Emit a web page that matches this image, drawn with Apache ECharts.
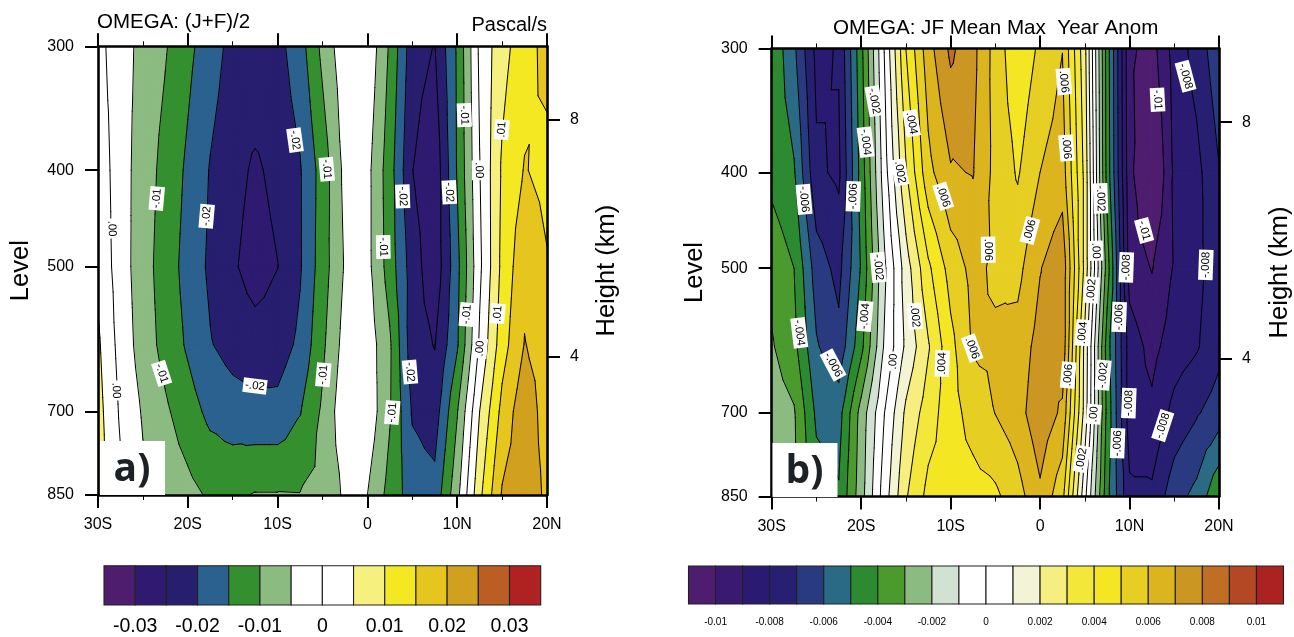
<!DOCTYPE html>
<html><head><meta charset="utf-8">
<style>html,body{margin:0;padding:0;background:#fff}#c{width:1294px;height:637px}</style>
<script src="https://cdn.jsdelivr.net/npm/echarts@6/dist/echarts.min.js"></script>
</head><body><div id="c"></div>
<script>
// ---- coordinates ----
const lons=[-30,-27.5,-25,-22.5,-20,-17.5,-15,-12.5,-10,-7.5,-5,-2.5,0,2.5,5,7.5,10,12.5,15,17.5,20];
const levels=[300,400,500,600,700,850];
const levelTicks=[300,400,500,700,850];
const heightTicks=[8,4];
const heightTickLevels=[356,617];
// ---- panel a values, one array per level ----
const a300=[.0015,-.0028,-.0065,-.0096,-.0137,-.0178,-.0215,-.0212,-.0216,-.0171,-.0087,-.0015,-.001,-.0107,-.0229,-.0252,-.0143,.001,.0083,.0128,.0167];
const a400=[.0031,-.0027,-.0075,-.0116,-.0159,-.0203,-.0232,-.0258,-.0236,-.0204,-.0128,-.0036,-.0035,-.0128,-.0249,-.0285,-.0146,-.0002,.0107,.0153,.0135];
const a500=[.0038,-.0025,-.0079,-.0124,-.0168,-.0209,-.0243,-.0272,-.0251,-.0205,-.0124,-.0045,-.0035,-.0123,-.0225,-.0285,-.0165,-.001,.0113,.0188,.0154];
const a600=[.0058,-.0018,-.0073,-.0117,-.0157,-.0197,-.0218,-.0229,-.0225,-.0189,-.011,-.003,-.002,-.0093,-.0228,-.0252,-.0156,.0007,.0129,.0202,.0178];
const a700=[.0068,-.0007,-.0055,-.0092,-.0128,-.0163,-.0178,-.0185,-.0185,-.0153,-.0092,-.0014,-.0015,-.0095,-.0205,-.0225,-.0103,.005,.0165,.0235,.0174];
const a850=[.0072,.001,-.004,-.0065,-.0085,-.0107,-.0108,-.0097,-.0097,-.0098,-.0085,-.0042,-.005,-.0118,-.0175,-.0183,-.0065,.0088,.0205,.0235,.0189];
// ---- panel b values ----
const b300=[-.0042,-.0058,-.0083,-.0079,-.0043,-.0001,.004,.0066,.0082,.0073,.0056,.0042,.0052,.00598,.0023,-.0045,-.0098,-.0104,-.0086,-.0076,-.0063];
const b400=[-.0043,-.0049,-.0078,-.0082,-.0046,-.0006,.0029,.0057,.0069,.00705,.0057,.0049,.006,.0065,.0027,-.0044,-.0097,-.0114,-.0088,-.0083,-.00705];
const b500=[-.0033,-.004,-.0065,-.0073,-.0049,-.0013,.0015,.0038,.0054,.0063,.0058,.0057,.00695,.0077,.0027,-.0035,-.0094,-.01005,-.0089,-.0083,-.0074];
const b600=[-.0029,-.0037,-.0059,-.0067,-.0043,-.001,.0012,.0029,.0047,.0061,.0062,.0064,.0074,.0077,.0017,-.0045,-.0085,-.0093,-.0085,-.0081,-.0073];
const b700=[-.0025,-.0029,-.0052,-.0054,-.0026,-.0001,.0022,.0035,.0046,.0054,.00602,.0066,.0077,.0068,.0016,-.0043,-.0085,-.0088,-.0077,-.0071,-.0065];
const b850=[-.0022,-.0028,-.0045,-.0049,-.0024,.0004,.0029,.0043,.0045,.0046,.0048,.0056,.0068,.0053,.0003,-.0047,-.0078,-.0078,-.0064,-.0057,-.0041];
// ---- contour levels and colours ----
const aContours=[-.03,-.025,-.02,-.015,-.01,-.005,0,.005,.01,.015,.02,.025,.03];
const aColors=['#4f1d6e','#2e1a70','#271e70','#2a618f','#34902e','#8cbb82','#ffffff','#ffffff','#f6f07f','#f3e822','#e6c61e','#d0a01e','#bb5e24','#b02222'];
const bContours=[-.01,-.009,-.008,-.007,-.006,-.005,-.004,-.003,-.002,-.001,0,.001,.002,.003,.004,.005,.006,.007,.008,.009,.01];
const bColors=['#4f1d70','#3a1970','#2b1a72','#271f72','#2a3a80','#2b6a85','#2c8a30','#4a9a2e','#8cbb82','#d2e2d2','#ffffff','#ffffff','#f3f3d5','#f6ef80','#f3e83a','#f4e622','#e6cf22','#dcb41e','#cc9622','#bf6e24','#b44824','#ac2222'];
const aBarLabels=['-0.03','','-0.02','','-0.01','','0','','0.01','','0.02','','0.03'];
const bBarLabels=['-0.01','','-0.008','','-0.006','','-0.004','','-0.002','','0','','0.002','','0.004','','0.006','','0.008','','0.01'];
// ---- contour line labels ----
const aLabelText=['-.02','-.01','-.01','-.02','.00','.00','-.01','-.02','-.01','-.01','.01','.00','-.02','-.02','-.01','-.01','.01','.00','-.02','-.01'];
const aLabelLon=[-8.06,-4.53,-23.46,-17.9,-28.47,-27.99,-22.91,-12.52,-4.91,10.79,14.96,12.43,3.93,9.12,1.77,11.06,14.51,12.54,4.74,2.77];
const aLabelLev=[373,399,427,445,458,667,641,660,643,352,364,400,425,421,478,559,558,605,639,702];
const aLabelRot=[-82,-85,85,85,-88,-88,-72,-7,85,-88,85,-89,-88,-87,-89,85,85,85,-85,85];
const bLabelText=['-.002','-.004','.004','-.006','-.006','.002','.006','-.002','-.004','.002','-.004','-.006','.00','.004','.006','.006','.006','-.002','.00','-.01','-.008','-.01','.006','.006','-.008','-.008','.002','.004','.006','-.002','.00','-.006','-.008','-.008','-.006','.002'];
const bLabelLon=[-18.54,-19.5,-14.36,-26.39,-20.88,-15.66,-10.83,-18.09,-19.58,-13.99,-26.92,-23.14,-16.41,-10.94,-7.59,2.66,2.96,6.76,6.23,13.13,16.26,11.63,-1.14,-5.8,9.64,18.53,5.75,4.75,3.14,7.05,6.01,8.84,9.92,13.71,8.66,4.64];
const bLabelLev=[339,373,357,426,423,400,423,499,559,559,581,626,621,624,602,324,378,425,480,338,320,458,458,479,499,496,526,581,641,641,702,560,684,721,751,779];
const bLabelRot=[-80,-83,-80,-85,88,-80,-72,-85,85,-85,-83,-62,85,88,-70,-85,-85,-88,-88,-87,-75,-75,75,-89,88,88,85,85,85,85,85,88,88,72,88,80];

const aRows=[a300,a400,a500,a600,a700,a850];
const bRows=[b300,b400,b500,b600,b700,b850];
const FONT='"Liberation Sans", Arial, sans-serif';
const logP=p=>Math.log(p);

// split one grid cell into four triangles around its mean
function cellTriangles(rows,i,j){
  const c=[[lons[i],logP(levels[j]),rows[j][i]],[lons[i+1],logP(levels[j]),rows[j][i+1]],
           [lons[i+1],logP(levels[j+1]),rows[j+1][i+1]],[lons[i],logP(levels[j+1]),rows[j+1][i]]];
  const m=[0,1,2].map(k=>(c[0][k]+c[1][k]+c[2][k]+c[3][k])/4);
  return [[c[0],c[1],m],[c[1],c[2],m],[c[2],c[3],m],[c[3],c[0],m]];
}
function clip(poly,level,keepAbove){
  const out=[];
  for(let n=0;n<poly.length;n++){
    const p=poly[n],q=poly[(n+1)%poly.length];
    const pin=keepAbove?p[2]>=level:p[2]<=level, qin=keepAbove?q[2]>=level:q[2]<=level;
    if(pin) out.push(p);
    if(pin!==qin){
      const t=(level-p[2])/(q[2]-p[2]);
      out.push([p[0]+t*(q[0]-p[0]),p[1]+t*(q[1]-p[1]),level]);
    }
  }
  return out;
}
function fillRenderer(rows,contours,colors){
  return function(params,api){
    const i=api.value(2),j=api.value(3),children=[];
    cellTriangles(rows,i,j).forEach(tri=>{
      colors.forEach((col,b)=>{
        let poly=tri;
        if(b>0) poly=clip(poly,contours[b-1],true);
        if(poly.length&&b<contours.length) poly=clip(poly,contours[b],false);
        if(poly.length>2) children.push({type:'polygon',shape:{points:poly.map(p=>api.coord([p[0],p[1]]))},
          style:{fill:col,stroke:col,lineWidth:1.1,lineJoin:'round'},silent:true});
      });
    });
    return {type:'group',children};
  };
}
function lineRenderer(rows,contours){
  return function(params,api){
    const i=api.value(2),j=api.value(3),children=[];
    cellTriangles(rows,i,j).forEach(tri=>{
      contours.forEach(L=>{
        const pts=[];
        for(let n=0;n<3;n++){
          const p=tri[n],q=tri[(n+1)%3];
          if((p[2]>=L)!==(q[2]>=L)){
            const t=(L-p[2])/(q[2]-p[2]);
            pts.push(api.coord([p[0]+t*(q[0]-p[0]),p[1]+t*(q[1]-p[1])]));
          }
        }
        if(pts.length===2) children.push({type:'line',shape:{x1:pts[0][0],y1:pts[0][1],x2:pts[1][0],y2:pts[1][1]},
          style:{stroke:'#000',lineWidth:1,lineCap:'round'},silent:true});
      });
    });
    return {type:'group',children};
  };
}
const cells=[];
for(let j=0;j<levels.length-1;j++)for(let i=0;i<lons.length-1;i++)cells.push([lons[i],logP(levels[j]),i,j]);

function labelSeries(axis,text,lon,lev,rot){
  return {type:'scatter',xAxisIndex:axis,yAxisIndex:axis,z:4,symbolSize:0,silent:true,animation:false,itemStyle:{opacity:1},
    data:text.map((t,n)=>({value:[lon[n],logP(lev[n])],label:{formatter:t,rotate:rot[n]}})),
    label:{show:true,position:'inside',opacity:1,color:'#000',fontFamily:FONT,fontSize:11.5,backgroundColor:'#fff',padding:[1.5,2,1,2],lineHeight:12}};
}
function barRenderer(colors){
  return function(params,api){
    const n=api.value(0),a=api.coord([n,1]),b=api.coord([n+1,0]);
    return {type:'rect',shape:{x:a[0],y:a[1],width:b[0]-a[0],height:b[1]-a[1]},
      style:{fill:colors[n],stroke:'#222',lineWidth:1.1},silent:true};
  };
}
const lonFmt=v=>v===0?'0':(v<0?(-v)+'S':v+'N');
const axisLine={show:true,onZero:false,lineStyle:{color:'#000',width:2.6}};
function xAxes(grid){
  const base={type:'value',gridIndex:grid,min:-30,max:20,interval:10,z:5,splitLine:{show:false},axisLine,
    axisTick:{show:true,length:13,lineStyle:{color:'#000',width:2}},
    minorTick:{show:true,splitNumber:2,length:5,lineStyle:{color:'#000',width:1}}};
  return [Object.assign({},base,{position:'bottom',axisLabel:{formatter:lonFmt,fontFamily:FONT,fontSize:16,color:'#000',margin:22}}),
          Object.assign({},base,{position:'top',axisLabel:{show:false}})];
}
const yBase=(grid,pos)=>({type:'value',gridIndex:grid,inverse:true,position:pos,min:logP(300),max:logP(850),z:5,splitLine:{show:false},axisLine,
    axisTick:{show:true,length:13,lineStyle:{color:'#000',width:2}}});
function yAxes(grid,gapL,gapR){
  const lt=levelTicks.map(logP), ht=heightTickLevels.map(logP);
  const nameStyle={fontFamily:FONT,fontSize:25.5,color:'#000'};
  return [Object.assign(yBase(grid,'left'),{name:'Level',nameLocation:'middle',nameGap:gapL,nameTextStyle:nameStyle,
      axisTick:{show:true,length:13,customValues:lt,lineStyle:{color:'#000',width:2}},
      axisLabel:{customValues:lt,formatter:v=>String(Math.round(Math.exp(v))),fontFamily:FONT,fontSize:16,color:'#000',margin:24}}),
    Object.assign(yBase(grid,'right'),{name:'Height (km)',nameLocation:'middle',nameGap:gapR,nameRotate:90,nameTextStyle:nameStyle,
      axisTick:{show:true,length:13,customValues:ht,lineStyle:{color:'#000',width:2}},
      axisLabel:{customValues:ht,formatter:v=>{const k=ht.findIndex(h=>Math.abs(h-v)<1e-6);return String(heightTicks[k]);},fontFamily:FONT,fontSize:16,color:'#000',margin:23}})];
}
function barAxes(n,grid,labels,size,margin){
  return {type:'value',gridIndex:grid,min:0,max:n,interval:1,axisLine:{show:false},axisTick:{show:false},splitLine:{show:false},
    axisLabel:{fontFamily:FONT,fontSize:size,color:'#000',margin,showMinLabel:false,showMaxLabel:false,hideOverlap:false,
      formatter:v=>labels[v-1]||''}};
}
const barY=g=>({type:'value',gridIndex:g,min:0,max:1,show:false});
const panelLetter=(x,y,t)=>[
  {type:'rect',z:100,shape:{x,y,width:65,height:54},style:{fill:'#fff'},silent:true},
  {type:'text',z:101,x:x+32,y:y+29,style:{text:t,font:'bold 39px "Open Sans", sans-serif',fill:'#1c2126',textAlign:'center',textVerticalAlign:'middle'},silent:true}];

const option={animation:false,backgroundColor:'#fff',
 title:[
  {text:'OMEGA: (J+F)/2',left:97,top:12,padding:0,textStyle:{fontFamily:FONT,fontWeight:'normal',fontSize:20.5,color:'#000'}},
  {text:'Pascal/s',right:747,top:15,padding:0,textStyle:{fontFamily:FONT,fontWeight:'normal',fontSize:20,color:'#000'}},
  {text:'OMEGA: JF Mean Max  Year Anom',left:833,top:18,padding:0,textStyle:{fontFamily:FONT,fontWeight:'normal',fontSize:20.6,color:'#000'}}],
 grid:[
  {left:98,top:46.3,width:449,height:448.7},
  {left:771.7,top:48.5,width:447.5,height:448},
  {left:104,top:565.7,width:436.7,height:40},
  {left:688.5,top:566,width:595,height:38}],
 xAxis:[...xAxes(0),...xAxes(1),barAxes(14,2,aBarLabels,19.5,12),barAxes(22,3,bBarLabels,10,13)],
 yAxis:[...yAxes(0,64,47),...yAxes(1,64,48),barY(2),barY(3)],
 series:[
  {type:'custom',xAxisIndex:0,yAxisIndex:0,z:2,clip:true,silent:true,data:cells,renderItem:fillRenderer(aRows,aContours,aColors)},
  {type:'custom',xAxisIndex:0,yAxisIndex:0,z:3,clip:true,silent:true,data:cells,renderItem:lineRenderer(aRows,aContours)},
  labelSeries(0,aLabelText,aLabelLon,aLabelLev,aLabelRot),
  {type:'custom',xAxisIndex:2,yAxisIndex:2,z:2,clip:true,silent:true,data:cells,renderItem:fillRenderer(bRows,bContours,bColors)},
  {type:'custom',xAxisIndex:2,yAxisIndex:2,z:3,clip:true,silent:true,data:cells,renderItem:lineRenderer(bRows,bContours)},
  labelSeries(2,bLabelText,bLabelLon,bLabelLev,bLabelRot),
  {type:'custom',xAxisIndex:4,yAxisIndex:4,silent:true,data:aColors.map((c,n)=>[n,0]),renderItem:barRenderer(aColors)},
  {type:'custom',xAxisIndex:5,yAxisIndex:5,silent:true,data:bColors.map((c,n)=>[n,0]),renderItem:barRenderer(bColors)}],
 graphic:{elements:[...panelLetter(100,441,'a)'),...panelLetter(772.5,443,'b)')]}
};
echarts.init(document.getElementById('c'),null,{renderer:'canvas'}).setOption(option);
</script></body></html>
